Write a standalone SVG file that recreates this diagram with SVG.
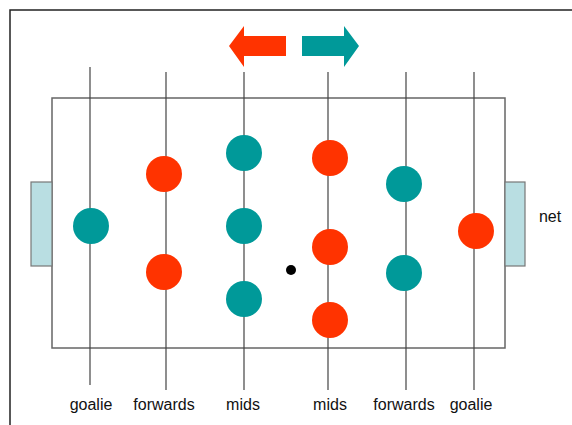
<svg xmlns="http://www.w3.org/2000/svg" width="572" height="425" viewBox="0 0 572 425">
<style>
.frame{stroke:#222;stroke-width:1.5;fill:none}
.field{stroke:#666;stroke-width:1.5;fill:none}
.rod{stroke:#444;stroke-width:1.2}
.net{fill:#B9DEE2;stroke:#777;stroke-width:1.2}
.red{fill:#FF3300}
.teal{fill:#009999}
.lbl{font-family:"Liberation Sans",Arial,sans-serif;font-size:16px;fill:#111;text-anchor:middle}
</style>
<rect width="572" height="425" fill="#fff"/>
<path class="frame" d="M10,425 V10 H572"/>
<g id="field">
<rect class="field" x="52" y="98" width="453" height="250"/>
<rect id="net-left" class="net" x="31" y="182" width="21" height="84"/>
<rect id="net-right" class="net" x="505" y="182" width="20" height="84"/>
</g>
<g id="arrows">
<polygon id="arrow-left" class="red" points="229,46 244,26 244,36 286,36 286,56 244,56 244,67"/>
<polygon id="arrow-right" class="teal" points="302,36 344,36 344,26 359,46 344,67 344,56 302,56"/>
</g>
<g id="connectors">
<line class="rod" x1="90" y1="67" x2="90" y2="385"/>
<line class="rod" x1="166" y1="72" x2="166" y2="390"/>
<line class="rod" x1="244" y1="72" x2="244" y2="390"/>
<line class="rod" x1="328" y1="72" x2="328" y2="390"/>
<line class="rod" x1="406" y1="72" x2="406" y2="390"/>
<line class="rod" x1="474" y1="72" x2="474" y2="390"/>
</g>
<g id="goalie-left"><circle class="teal" cx="91" cy="226" r="18"/></g>
<g id="forwards-left"><circle class="red" cx="164" cy="174" r="18"/><circle class="red" cx="164" cy="272" r="18"/></g>
<g id="mids-left"><circle class="teal" cx="244" cy="153" r="18"/><circle class="teal" cx="244" cy="226" r="18"/><circle class="teal" cx="244" cy="299" r="18"/></g>
<g id="mids-right"><circle class="red" cx="330" cy="158" r="18"/><circle class="red" cx="330" cy="247" r="18"/><circle class="red" cx="330" cy="320" r="18"/></g>
<g id="forwards-right"><circle class="teal" cx="404" cy="184" r="18"/><circle class="teal" cx="404" cy="273" r="18"/></g>
<g id="goalie-right"><circle class="red" cx="476" cy="231" r="18"/></g>
<g id="ball"><circle cx="291" cy="270" r="5" fill="#000"/></g>
<g id="labels">
<text class="lbl" x="91" y="410">goalie</text>
<text class="lbl" x="164" y="410">forwards</text>
<text class="lbl" x="243" y="410">mids</text>
<text class="lbl" x="330" y="410">mids</text>
<text class="lbl" x="404" y="410">forwards</text>
<text class="lbl" x="471" y="410">goalie</text>
<text class="lbl" x="550" y="222">net</text>
</g>
</svg>
